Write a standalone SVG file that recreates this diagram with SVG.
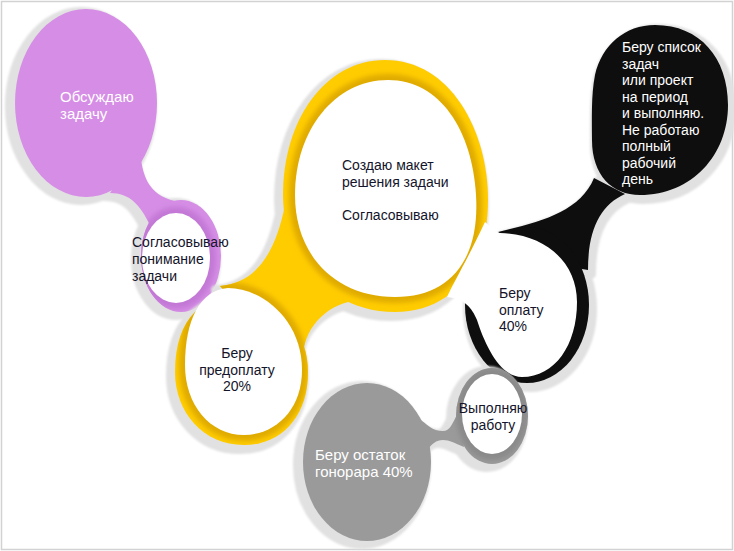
<svg xmlns="http://www.w3.org/2000/svg" xmlns:xlink="http://www.w3.org/1999/xlink" width="734" height="551" viewBox="0 0 734 551">
<defs>
<style>
.t{font-family:"Liberation Sans",Arial,"DejaVu Sans",sans-serif;font-size:14px}
.t15{font-size:15px}
.dk{fill:#14142a}
.wt{fill:#ffffff}
.sh{fill:#e1e1e1;stroke:#e1e1e1;stroke-width:10;stroke-linejoin:round}
.in{fill:#ffffff}
.edge{fill:none;stroke-width:12;filter:url(#bl)}
.purple{fill:#d58de5}
.yellow{fill:#ffcc00}
.black{fill:#0e0e0e}
.gray{fill:#9a9a9a}
</style>
<filter id="bl" x="-20%" y="-20%" width="140%" height="140%"><feGaussianBlur stdDeviation="2.5"/></filter>
<filter id="sb" x="-10%" y="-10%" width="120%" height="120%"><feGaussianBlur stdDeviation="1"/></filter>

<ellipse id="pA" cx="86" cy="103" rx="71" ry="94"/>
<path id="pN" d="M140,150 C142,175 148,195 175,201 L150,225 C140,205 130,193 110,193 Z"/>
<ellipse id="pR" cx="181" cy="256" rx="40" ry="56"/>
<ellipse id="pW" cx="176" cy="258" rx="34" ry="45"/>

<path id="yB" d="M385,60 C450,60 488,130 488,200 C488,270 450,312 395,312 C330,312 283,260 283,195 C283,120 325,60 385,60 Z"/>
<path id="yN" d="M220,286 C255,283 275,255 285,205 L360,300 C330,302 305,325 303,355 L260,330 Z"/>
<path id="yL" d="M175,372 C175,345 182,325 195,312 L228,288 C262,288 308,320 308,372 C308,418 280,445 244,445 C203,445 175,412 175,372 Z"/>
<path id="yW1" d="M388,80 C440,80 472,130 476,195 C480,260 450,297 395,297 C335,297 295,255 295,195 C295,130 335,80 388,80 Z"/>
<path id="yW2" d="M185,365 C185,320 200,290 228,288 C262,288 302,320 302,370 C302,410 275,435 244,435 C210,435 185,405 185,365 Z"/>

<path id="kE" d="M655,25 C700,25 728,58 728,105 C728,155 692,195 640,195 C612,195 592,175 592,140 C592,120 591,95 595,75 C602,45 625,25 655,25 Z"/>
<path id="kN" d="M498,232 C540,222 580,212 594,178 L625,194 C600,205 588,230 588,270 L540,262 Z"/>
<ellipse id="kR" cx="527" cy="305" rx="62" ry="78"/>
<path id="kW" d="M485,222 C492,228 496,233 500,233 C545,234 577,262 577,302 C577,345 555,377 522,377 C500,377 485,345 477,320 C472,308 465,299 447,297 C455,280 468,258 485,222 Z"/>

<ellipse id="gE" cx="367" cy="462" rx="64" ry="79"/>
<path id="gN" d="M417,417 C428,425 432,431 443,431 C450,431 452,424 458,413 L464,447 C454,443 450,440 443,440 C436,440 432,444 428,449 Z"/>
<ellipse id="gR" cx="492" cy="416" rx="36" ry="48"/>
<ellipse id="gW" cx="492" cy="414" rx="30" ry="40"/>

<clipPath id="cpP"><use xlink:href="#pA"/><use xlink:href="#pN"/><use xlink:href="#pR"/></clipPath>
<clipPath id="cpY"><use xlink:href="#yB"/><use xlink:href="#yN"/><use xlink:href="#yL"/></clipPath>
<clipPath id="cpK"><use xlink:href="#kE"/><use xlink:href="#kN"/><use xlink:href="#kR"/></clipPath>
<clipPath id="cpG"><use xlink:href="#gE"/><use xlink:href="#gN"/><use xlink:href="#gR"/></clipPath>
</defs>

<rect x="1.5" y="1.5" width="731" height="548" fill="#ffffff" stroke="#d2d2d2" stroke-width="1.5"/>

<g id="connectors"></g>

<g id="node-obsuzhdayu">
  <g class="sh" transform="translate(-5,3)" filter="url(#sb)"><use xlink:href="#pA"/><use xlink:href="#pN"/><use xlink:href="#pR"/></g>
  <g class="purple"><use xlink:href="#pA"/><use xlink:href="#pN"/><use xlink:href="#pR"/></g>
  <g clip-path="url(#cpP)"><use xlink:href="#pW" class="edge" stroke="#c378d6"/></g>
  <use xlink:href="#pW" class="in"/>
  <text class="t t15 wt"><tspan x="60" y="102">Обсуждаю</tspan><tspan x="60" y="119">задачу</tspan></text>
  <text class="t dk"><tspan x="132" y="247">Согласовываю</tspan><tspan x="132" y="264">понимание</tspan><tspan x="132" y="281">задачи</tspan></text>
</g>

<g id="node-maket">
  <g class="sh" transform="translate(-4,4)" filter="url(#sb)"><use xlink:href="#yB"/><use xlink:href="#yN"/><use xlink:href="#yL"/></g>
  <g class="yellow"><use xlink:href="#yB"/><use xlink:href="#yN"/><use xlink:href="#yL"/></g>
  <g clip-path="url(#cpY)"><use xlink:href="#yW1" class="edge" stroke="#e0ab00"/><use xlink:href="#yW2" class="edge" stroke="#e0ab00"/></g>
  <use xlink:href="#yW1" class="in"/>
  <use xlink:href="#yW2" class="in"/>
  <text class="t dk"><tspan x="342" y="170">Создаю макет</tspan><tspan x="342" y="187">решения задачи</tspan><tspan x="342" y="220">Согласовываю</tspan></text>
  <text class="t dk" text-anchor="middle"><tspan x="237" y="358">Беру</tspan><tspan x="237" y="375">предоплату</tspan><tspan x="237" y="391">20%</tspan></text>
</g>

<g id="node-oplata">
  <g class="sh" transform="translate(3,4)" filter="url(#sb)"><use xlink:href="#kE"/><use xlink:href="#kN"/><use xlink:href="#kR"/></g>
  <g class="black"><use xlink:href="#kE"/><use xlink:href="#kN"/><use xlink:href="#kR"/></g>
  <use xlink:href="#kW" class="in"/>
  <text class="t wt"><tspan x="622" y="52">Беру список</tspan><tspan x="622" y="68.5">задач</tspan><tspan x="622" y="85">или проект</tspan><tspan x="622" y="101.5">на период</tspan><tspan x="622" y="118">и выполняю.</tspan><tspan x="622" y="134.5">Не работаю</tspan><tspan x="622" y="151">полный</tspan><tspan x="622" y="167.5">рабочий</tspan><tspan x="622" y="184">день</tspan></text>
  <text class="t dk"><tspan x="499" y="298">Беру</tspan><tspan x="499" y="315">оплату</tspan><tspan x="499" y="331">40%</tspan></text>
</g>

<g id="node-ostatok">
  <g class="sh" transform="translate(-5,3)" filter="url(#sb)"><use xlink:href="#gE"/><use xlink:href="#gN"/><use xlink:href="#gR"/></g>
  <g class="gray"><use xlink:href="#gE"/><use xlink:href="#gN"/><use xlink:href="#gR"/></g>
  <g clip-path="url(#cpG)"><use xlink:href="#gW" class="edge" stroke="#8a8a8a"/></g>
  <use xlink:href="#gW" class="in"/>
  <text class="t dk" text-anchor="middle"><tspan x="493" y="413">Выполняю</tspan><tspan x="493" y="430">работу</tspan></text>
  <text class="t t15 wt"><tspan x="315" y="460">Беру остаток</tspan><tspan x="315" y="477">гонорара 40%</tspan></text>
</g>
</svg>
